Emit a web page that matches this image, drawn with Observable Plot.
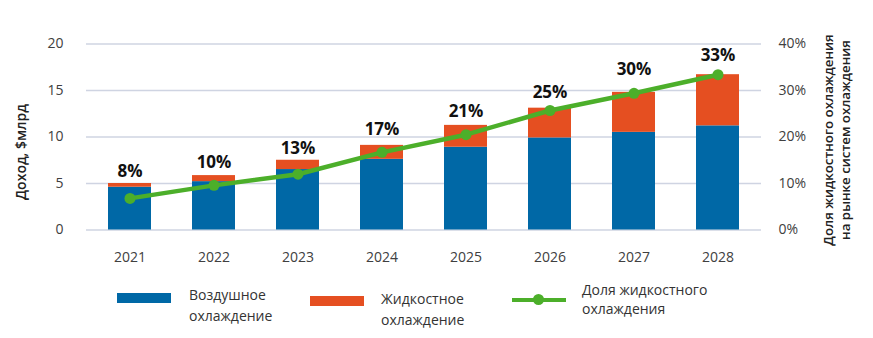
<!DOCTYPE html>
<html><head><meta charset="utf-8">
<script src="https://cdn.jsdelivr.net/npm/d3@7"></script>
<script src="https://cdn.jsdelivr.net/npm/@observablehq/plot@0.6"></script>
<style>
body{margin:0;background:#fff;font-family:"Open Sans",sans-serif;}
#wrap{position:relative;width:873px;height:338px;overflow:hidden;}
.lg{position:absolute;font-size:14px;color:#333;line-height:21px;white-space:nowrap;}
.sw{position:absolute;}
</style></head><body>
<div id="wrap"><div id="chart"></div><div id="legend"></div></div>
<script>
const years = ["2021","2022","2023","2024","2025","2026","2027","2028"];
const airCooling = [4.6, 5.2, 6.5, 7.6, 8.9, 9.9, 10.5, 11.2];
const liquidCooling = [0.4, 0.65, 1.0, 1.5, 2.35, 3.2, 4.3, 5.5];
const liquidShare = [6.8, 9.6, 12.0, 16.7, 20.5, 25.7, 29.4, 33.4];
const shareLabels = [8, 10, 13, 17, 21, 25, 30, 33];
const leftTicks = [0, 5, 10, 15, 20];
const rightTicks = [0, 10, 20, 30, 40];
const seriesNames = ["Воздушное охлаждение", "Жидкостное охлаждение", "Доля жидкостного охлаждения"];
const colors = ["#0068a6", "#e54f21", "#4caf2a"];
const leftTitle = "Доход, $млрд";
const rightTitle = ["Доля жидкостного охлаждения", "на рынке систем охлаждения"];

const bars = [];
years.forEach((y, i) => bars.push({year: y, series: seriesNames[0], value: airCooling[i]}));
years.forEach((y, i) => bars.push({year: y, series: seriesNames[1], value: liquidCooling[i]}));
const share = years.map((y, i) => ({year: y, share: liquidShare[i], label: shareLabels[i]}));

const chart = Plot.plot({
  width: 873, height: 272,
  marginLeft: 86, marginRight: 112, marginTop: 43.5, marginBottom: 42.5,
  style: {fontFamily: "Open Sans", fontSize: "14px", color: "#404040", background: "#fff"},
  x: {domain: years, paddingInner: 0.49, paddingOuter: 0.245},
  y: {domain: [0, 20]},
  color: {domain: seriesNames.slice(0, 2), range: colors.slice(0, 2)},
  marks: [
    Plot.gridY(leftTicks, {stroke: "#cfd4e2", strokeOpacity: 1, strokeWidth: 1.6}),
    Plot.axisX({tickSize: 0, tickPadding: 22, label: null, fontSize: 14}),
    Plot.axisY(leftTicks, {anchor: "left", tickSize: 0, tickPadding: 23, label: null, fontSize: 14}),
    Plot.axisY(rightTicks.map(d => d / 2), {anchor: "right", tickSize: 0, tickPadding: 17, tickFormat: d => (d * 2) + "%", label: null, fontSize: 14}),
    Plot.barY(bars, {x: "year", y: "value", fill: "series"}),
    Plot.line(share, {x: "year", y: d => d.share / 2, stroke: colors[2], strokeWidth: 4.5}),
    Plot.dot(share, {x: "year", y: d => d.share / 2, r: 5.5, fill: colors[2]}),
    Plot.text(share, {x: "year", y: d => d.label / 2, text: d => d.label + "%", dy: -21, fontSize: 17, fontWeight: 700, fill: "#111"})
  ]
});
document.getElementById("chart").appendChild(chart);

// axis titles
const svg = d3.select(chart);
svg.append("text").attr("transform", "translate(21,152) rotate(-90)")
  .attr("text-anchor", "middle").attr("dy", "0.35em").attr("font-size", 14).attr("font-weight", 600)
  .attr("fill", "#222").attr("font-family", "Open Sans").text(leftTitle);
const rt = svg.append("text").attr("transform", "translate(836,140) rotate(-90)")
  .attr("text-anchor", "middle").attr("font-size", 13.3).attr("font-weight", 600).attr("fill", "#222")
  .attr("font-family", "Open Sans");
rt.append("tspan").attr("x", 0).attr("dy", "-0.2em").text(rightTitle[0]);
rt.append("tspan").attr("x", 0).attr("dy", "1.25em").text(rightTitle[1]);

// legend
const lg = document.getElementById("legend");
function add(html){ lg.insertAdjacentHTML("beforeend", html); }
add(`<div class="sw" style="left:117px;top:293px;width:54px;height:10px;background:${colors[0]}"></div>`);
add(`<div class="lg" style="left:189px;top:284px;">Воздушное<br>охлаждение</div>`);
add(`<div class="sw" style="left:310px;top:296px;width:54px;height:10px;background:${colors[1]}"></div>`);
add(`<div class="lg" style="left:381px;top:288px;">Жидкостное<br>охлаждение</div>`);
add(`<div class="sw" style="left:512px;top:298px;width:54px;height:4px;background:${colors[2]}"></div>`);
add(`<div class="sw" style="left:533px;top:294px;width:11px;height:11px;border-radius:50%;background:${colors[2]}"></div>`);
add(`<div class="lg" style="left:582px;top:280px;line-height:19px;">Доля жидкостного<br>охлаждения</div>`);
</script>
</body></html>
